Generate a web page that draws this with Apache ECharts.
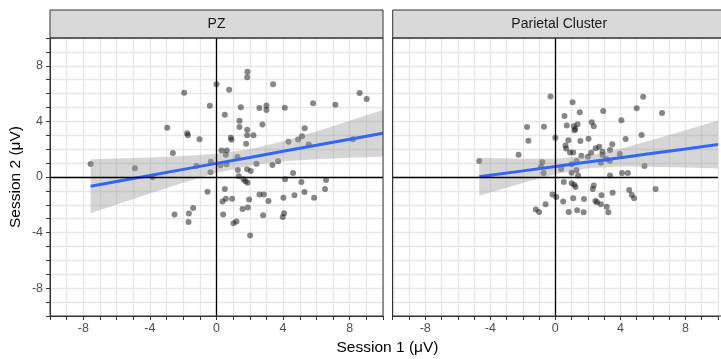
<!DOCTYPE html>
<html>
<head>
<meta charset="utf-8">
<script src="https://cdn.jsdelivr.net/npm/echarts@6/dist/echarts.min.js"></script>
<style>
  html, body { margin: 0; padding: 0; background: #fff; }
  #chart { width: 721px; height: 359px; }
</style>
</head>
<body>
<div id="chart"></div>
<script>
// panel names and tick labels
var panels = ['PZ', 'Parietal Cluster'];
var labelBreaks = [-8, -4, 0, 4, 8];

// PZ: session 1 vs session 2 (µV)
var pzPoints = [
  [-7.56, 0.94], [-4.9, 0.63], [-3.84, -0.02], [-2.96, 3.55], [-2.62, 1.73], [-1.94, 6.07],
  [-1.76, 3.14], [-1.72, 3.0], [-1.02, 2.71], [-0.4, 5.13], [0, 6.67], [0.5, 4.48],
  [0.76, 6.28], [-0.34, 1.1], [-0.36, 0.34], [-1.2, 0.79], [-0.54, -1.06], [-2.52, -2.69],
  [-1.66, -2.62], [-1.4, -2.23], [-1.68, -3.24], [0.5, -0.86], [0.56, -1.56], [0.36, -1.77],
  [0.4, -2.69], [0.3, 1.9], [0.62, 1.9], [0.56, 1.6], [0.24, 0.84], [0.6, 0.92],
  [1.86, 7.58], [1.84, 7.17], [3.4, 6.67], [8.6, 6.04], [9.02, 5.61], [5.8, 5.3],
  [7.14, 5.2], [1.46, 5.01], [2.58, 4.96], [3.0, 5.15], [3.0, 4.82], [4.1, 4.99],
  [1.38, 4.05], [1.38, 3.6], [2.76, 3.77], [1.84, 3.4], [1.84, 3.0], [2.22, 3.0],
  [0.86, 2.83], [0.9, 2.68], [1.78, 2.4], [5.3, 3.5], [5.14, 2.93], [4.9, 2.7],
  [4.32, 2.54], [5.54, 2.33], [8.2, 2.71], [1.26, 1.44], [2.4, 0.96], [3.36, 0.86],
  [3.7, 1.13], [1.28, 0.5], [1.84, 0.55], [2.06, 0.43], [4.6, 0.29], [1.34, 0.05],
  [1.62, -0.17], [1.74, -0.3], [1.86, -0.41], [4.12, -0.17], [6.58, -0.22], [5.1, -0.36],
  [6.52, -0.86], [5.28, -1.08], [0.94, -1.56], [2.58, -1.25], [2.84, -1.25], [4.68, -1.32],
  [5.86, -1.49], [1.96, -1.61], [3.12, -1.73], [4.02, -1.49], [1.56, -2.3], [1.88, -2.2],
  [2.8, -2.76], [4.06, -2.61], [3.98, -2.88], [1.02, -3.33], [1.2, -3.2], [2.02, -4.2]
];

// Parietal cluster
var parPoints = [
  [-0.3, 5.8], [1.06, 5.37], [0.56, 4.39], [-1.74, 3.6], [-0.7, 3.62], [0.7, 3.7],
  [1.14, 3.66], [1.22, 3.45], [1.18, 3.36], [1.36, 3.79], [-1.66, 2.61], [0, 2.83],
  [0.8, 2.64], [0.62, 2.26], [0.66, 2.05], [0.9, 1.76], [1.1, 1.76], [-2.26, 1.6],
  [-4.68, 1.15], [-0.8, 1.08], [-0.88, 0.72], [-0.72, 0.29], [0.36, 0.58], [1.0, 0.31],
  [1.3, 0.5], [0.52, -0.36], [1.0, -0.45], [1.16, -0.55], [1.24, -0.72], [-0.18, -1.25],
  [0.06, -1.44], [0.48, -1.77], [1.1, -1.53], [-0.6, -1.96], [-1.2, -2.33], [-1.0, -2.52],
  [0.82, -2.52], [5.4, 5.78], [5.0, 4.94], [6.56, 4.6], [2.94, 4.75], [1.5, 4.65],
  [4.06, 4.08], [2.24, 3.93], [2.36, 3.65], [1.54, 2.59], [2.04, 2.76], [4.32, 2.73],
  [5.3, 3.02], [3.5, 2.35], [3.36, 1.94], [2.48, 2.06], [2.7, 2.18], [2.9, 1.82],
  [2.9, 1.58], [2.2, 1.75], [2.0, 1.46], [1.6, 1.53], [3.96, 1.65], [3.14, 1.29],
  [3.36, 1.17], [2.8, 1.03], [1.3, 1.15], [1.0, 0.91], [5.48, 0.79], [4.1, 0.29],
  [4.46, 0.29], [3.36, 0.1], [1.4, 0.1], [2.36, -0.62], [2.3, -0.86], [4.54, -0.94],
  [4.7, -1.3], [4.84, -1.53], [6.16, -0.86], [3.52, -1.13], [2.84, -1.32], [1.76, -1.58],
  [2.46, -1.73], [2.56, -1.82], [2.8, -1.96], [3.16, -2.14], [3.26, -2.54], [1.34, -2.4],
  [1.74, -2.54]
];

// linear fit + 95% band
var pzFitX  = [-7.56, -6, -4, -2, 0, 2, 4, 6, 8, 10];
var pzFitY  = [-0.66, -0.32, 0.11, 0.55, 0.98, 1.41, 1.85, 2.28, 2.72, 3.15];
var pzLow   = [-2.60, -1.97, -1.19, -0.41, 0.28, 0.82, 1.13, 1.28, 1.39, 1.46];
var pzHigh  = [1.28, 1.33, 1.41, 1.51, 1.68, 2.0, 2.57, 3.28, 4.05, 4.84];

var parFitX = [-4.68, -4, -2, 0, 2, 4, 6, 8, 10];
var parFitY = [0.02, 0.13, 0.44, 0.76, 1.08, 1.39, 1.71, 2.02, 2.34];
var parLow  = [-1.35, -1.11, -0.44, 0.19, 0.63, 0.75, 0.74, 0.68, 0.61];
var parHigh = [1.39, 1.37, 1.32, 1.33, 1.53, 2.03, 2.68, 3.36, 4.06];

var chart = echarts.init(document.getElementById('chart'));

var gridLeft = [50, 392.7];
var gridTop = 38, gridW = 333, gridH = 278;

function zip(a, b) {
  return a.map(function (v, i) { return [v, b[i]]; });
}

function tickFmt(v) {
  return labelBreaks.indexOf(v) >= 0 ? String(v) : '';
}

function makeX(i) {
  return {
    type: 'value', gridIndex: i, min: -10, max: 10, interval: 1,
    axisLine: { show: true, onZero: false, lineStyle: { color: '#333', width: 1 } },
    axisTick: { show: true, length: 4, lineStyle: { color: '#333' } },
    axisLabel: { formatter: tickFmt, color: '#4d4d4d', fontSize: 12.5, margin: 6, fontFamily: 'Liberation Sans' },
    splitLine: { show: true, lineStyle: { color: '#e6e6e6', width: 1.3 } }
  };
}

function makeY(i) {
  var y = {
    type: 'value', gridIndex: i, min: -10, max: 10, interval: 1,
    axisLine: { show: true, onZero: false, lineStyle: { color: '#333', width: 1 } },
    axisTick: { show: i === 0, length: 4, lineStyle: { color: '#333' } },
    axisLabel: { show: i === 0, formatter: tickFmt, color: '#4d4d4d', fontSize: 12.5, margin: 7, fontFamily: 'Liberation Sans' },
    splitLine: { show: true, lineStyle: { color: '#e6e6e6', width: 1.3 } }
  };
  if (i === 0) {
    y.name = 'Session 2 (μV)';
    y.nameLocation = 'middle';
    y.nameGap = 26;
    y.nameTextStyle = { fontSize: 15.5, color: '#000', fontFamily: 'Liberation Sans' };
  }
  return y;
}

function bandSeries(i, xs, lo, hi) {
  return {
    type: 'custom', xAxisIndex: i, yAxisIndex: i, silent: true, z: 3,
    data: [[xs[0], lo[0]]],
    renderItem: function (params, api) {
      var pts = [];
      for (var k = 0; k < xs.length; k++) pts.push(api.coord([xs[k], hi[k]]));
      for (var k = xs.length - 1; k >= 0; k--) pts.push(api.coord([xs[k], lo[k]]));
      return { type: 'polygon', shape: { points: pts }, style: { fill: 'rgba(153,153,153,0.4)' } };
    }
  };
}

function panelSeries(i, pts, fx, fy, lo, hi) {
  return [
    {
      type: 'scatter', xAxisIndex: i, yAxisIndex: i, z: 2, silent: true,
      symbolSize: 6, data: pts,
      itemStyle: { color: 'rgba(20,20,20,0.64)' }
    },
    bandSeries(i, fx, lo, hi),
    {
      type: 'line', xAxisIndex: i, yAxisIndex: i, z: 4, silent: true,
      data: zip(fx, fy), showSymbol: false,
      lineStyle: { color: '#3366FF', width: 3 }
    },
    {
      type: 'line', xAxisIndex: i, yAxisIndex: i, z: 5, silent: true, data: [],
      markLine: {
        silent: true, symbol: 'none', label: { show: false },
        lineStyle: { color: '#000', width: 1.3, type: 'solid' },
        data: [{ xAxis: 0 }, { yAxis: 0 }]
      }
    }
  ];
}

var graphics = [];
panels.forEach(function (name, i) {
  graphics.push({
    type: 'rect', z: 100,
    shape: { x: gridLeft[i], y: 10, width: gridW, height: gridTop - 10 },
    style: { fill: '#d9d9d9', stroke: '#333', lineWidth: 1 }
  });
  graphics.push({
    type: 'text', z: 101, x: gridLeft[i] + gridW / 2, y: 24,
    style: { text: name, fill: '#1a1a1a', fontSize: 14, fontFamily: 'Liberation Sans', align: 'center', verticalAlign: 'middle' }
  });
  graphics.push({
    type: 'rect', z: 100,
    shape: { x: gridLeft[i], y: gridTop, width: gridW, height: gridH },
    style: { fill: 'none', stroke: '#333', lineWidth: 1 }
  });
});
graphics.push({
  type: 'text', z: 101, x: 387.5, y: 348,
  style: { text: 'Session 1 (μV)', fill: '#000', fontSize: 15.5, fontFamily: 'Liberation Sans', align: 'center', verticalAlign: 'middle' }
});

var option = {
  animation: false,
  backgroundColor: '#fff',
  grid: [
    { left: gridLeft[0], top: gridTop, width: gridW, height: gridH },
    { left: gridLeft[1], top: gridTop, width: gridW, height: gridH }
  ],
  xAxis: [makeX(0), makeX(1)],
  yAxis: [makeY(0), makeY(1)],
  graphic: graphics,
  series: panelSeries(0, pzPoints, pzFitX, pzFitY, pzLow, pzHigh)
    .concat(panelSeries(1, parPoints, parFitX, parFitY, parLow, parHigh))
};

chart.setOption(option);
window.addEventListener('resize', function () { chart.resize(); });
</script>
</body>
</html>
